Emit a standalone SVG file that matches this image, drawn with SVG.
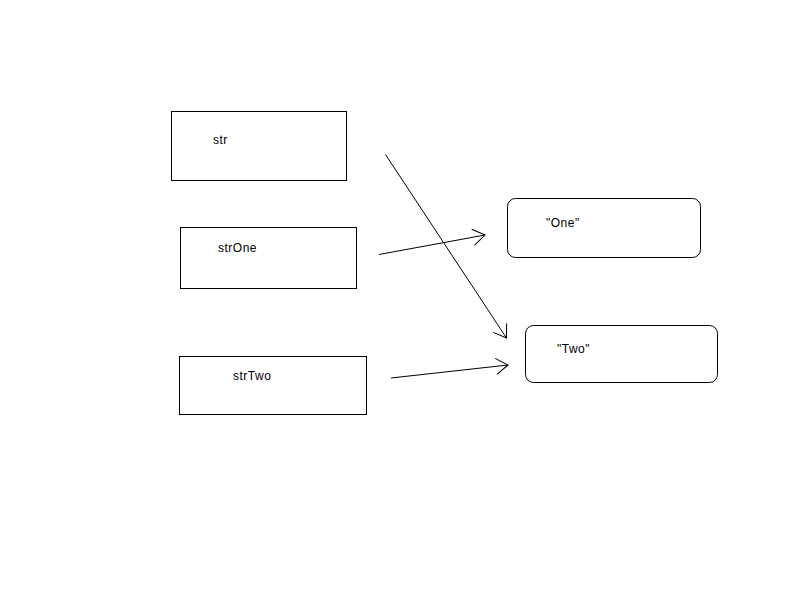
<svg xmlns="http://www.w3.org/2000/svg" width="800" height="600" viewBox="0 0 800 600">
  <style>
    .var { fill: #fff; stroke: #000; stroke-width: 1; }
    .val { fill: #fff; stroke: #000; stroke-width: 1; }
    .lbl { font-family: "Liberation Sans", Arial, sans-serif; font-size: 12px; letter-spacing: 0.5px; fill: #000; }
    .ref { fill: none; stroke: #000; stroke-width: 1; marker-end: url(#open); }
  </style>
  <defs>
    <marker id="open" markerUnits="userSpaceOnUse" markerWidth="16" markerHeight="18" refX="14" refY="9" orient="auto" overflow="visible">
      <path d="M 2 1 L 14 9 L 2 17" fill="none" stroke="#000" stroke-width="1"/>
    </marker>
  </defs>
  <rect width="800" height="600" fill="#fff"/>

  <g id="str">
    <rect class="var" x="171.5" y="111.5" width="175" height="69"/>
    <text class="lbl" x="213" y="144">str</text>
  </g>
  <g id="strOne">
    <rect class="var" x="180.5" y="227.5" width="176" height="61"/>
    <text class="lbl" x="218" y="252">strOne</text>
  </g>
  <g id="strTwo">
    <rect class="var" x="179.5" y="356.5" width="187" height="58"/>
    <text class="lbl" x="233" y="380">strTwo</text>
  </g>
  <g id="one">
    <rect class="val" x="507.5" y="198.5" width="193" height="59" rx="8" ry="8"/>
    <text class="lbl" x="546" y="227">"One"</text>
  </g>
  <g id="two">
    <rect class="val" x="525.5" y="325.5" width="192" height="57" rx="8" ry="8"/>
    <text class="lbl" x="557" y="353">"Two"</text>
  </g>

  <g id="connectors">
    <line class="ref" x1="385.5" y1="154.5" x2="506.5" y2="338"/>
    <line class="ref" x1="379" y1="254.5" x2="485" y2="235"/>
    <line class="ref" x1="391" y1="378" x2="508" y2="365"/>
  </g>
</svg>
